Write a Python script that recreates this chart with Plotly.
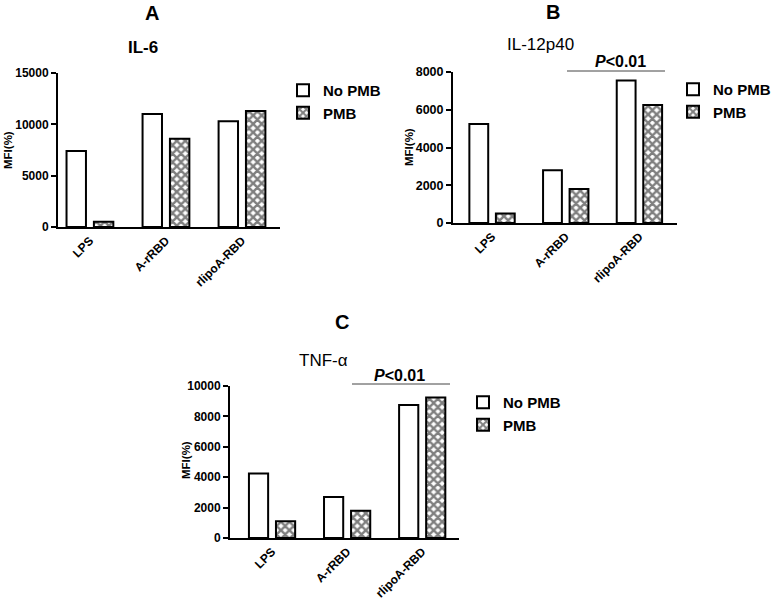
import plotly.graph_objects as go

categories = ["LPS", "A-rRBD", "rlipoA-RBD"]
series_names = ["No PMB", "PMB"]

il6_no_pmb = [7400, 11000, 10300]
il6_pmb = [500, 8600, 11300]

il12_no_pmb = [5250, 2800, 7550]
il12_pmb = [500, 1800, 6250]

tnf_no_pmb = [4250, 2700, 8750]
tnf_pmb = [1100, 1800, 9250]

panel_letters = ["A", "B", "C"]
panel_titles = ["IL-6", "IL-12p40", "TNF-α"]
y_ranges = [[0, 15000], [0, 8000], [0, 10000]]
y_ticks = [[0, 5000, 10000, 15000], [0, 2000, 4000, 6000, 8000], [0, 2000, 4000, 6000, 8000, 10000]]
y_label = "MFI(%)"
p_text = "<i>P</i>&lt;0.01"

W, H = 778, 604
FONT = "Liberation Sans, Arial, sans-serif"


def px(x):
    return x / W


def py(y):
    return 1 - y / H


fig = go.Figure()

data = [(il6_no_pmb, il6_pmb), (il12_no_pmb, il12_pmb), (tnf_no_pmb, tnf_pmb)]
legends = ["legend", "legend2", "legend3"]
for i, (nopmb, pmb) in enumerate(data):
    sfx = "" if i == 0 else str(i + 1)
    fig.add_trace(go.Bar(
        x=categories, y=nopmb, name=series_names[0],
        xaxis="x" + sfx, yaxis="y" + sfx, legend=legends[i],
        marker=dict(color="white", line=dict(color="black", width=2)),
        offsetgroup="a",
    ))
    fig.add_trace(go.Bar(
        x=categories, y=pmb, name=series_names[1],
        xaxis="x" + sfx, yaxis="y" + sfx, legend=legends[i],
        marker=dict(color="white", line=dict(color="black", width=2),
                    pattern=dict(shape="x", fgcolor="black", bgcolor="white",
                                 size=6, solidity=0.65)),
        offsetgroup="b",
    ))

# panel geometry (pixels): x0, x1, ytop, ybottom, category range
geo = [
    (58, 280, 73, 227, [-0.42, 2.5]),
    (453, 677, 72, 223, [-0.53, 2.51]),
    (230, 459, 386, 538, [-0.56, 2.49]),
]
tick_sizes = [12, 12.5, 12]

layout = dict(
    width=W, height=H, autosize=False,
    margin=dict(l=0, r=0, t=0, b=0, pad=0, autoexpand=False),
    paper_bgcolor="white", plot_bgcolor="white",
    barmode="group", bargap=0.28, bargroupgap=0.29,
    font=dict(family=FONT, color="black"),
)
for i, (x0, x1, yt, yb, xr) in enumerate(geo):
    sfx = "" if i == 0 else str(i + 1)
    layout["xaxis" + sfx] = dict(
        domain=[px(x0), px(x1)], anchor="y" + sfx, range=xr,
        showline=True, linewidth=2, linecolor="black", ticks="",
        tickangle=-45, showgrid=False, zeroline=False, automargin=False,
        tickfont=dict(family=FONT, size=12, weight="bold", color="black"),
    )
    layout["yaxis" + sfx] = dict(
        domain=[py(yb), py(yt)], anchor="x" + sfx, range=y_ranges[i],
        tickvals=y_ticks[i], tickformat="d", showline=True, linewidth=2, linecolor="black",
        ticks="outside", ticklen=5, tickwidth=2, tickcolor="black",
        showgrid=False, zeroline=False, automargin=False,
        tickfont=dict(family=FONT, size=tick_sizes[i], weight="bold", color="black"),
    )

leg_pos = [(283, 74), (673, 73), (463, 386)]
for i, (lx, ly) in enumerate(leg_pos):
    layout[legends[i]] = dict(
        x=px(lx), y=py(ly), xanchor="left", yanchor="top",
        bgcolor="rgba(0,0,0,0)", borderwidth=0, tracegroupgap=0,
        font=dict(family=FONT, size=15, weight="bold", color="black"),
    )

fig.update_layout(**layout)


def ann(text, x, y, size, weight="bold", angle=0):
    return dict(text=text, x=px(x), y=py(y), xref="paper", yref="paper",
                xanchor="center", yanchor="middle", showarrow=False, textangle=angle,
                font=dict(family=FONT, size=size, weight=weight, color="black"))


annotations = []
letter_pos = [(152, 13), (553, 12), (342, 322)]
title_pos = [(143, 47), (540, 45), (323, 360)]
title_bold = ["bold", "normal", "normal"]
ylab_pos = [(8, 150), (409, 147), (186, 460)]
for i in range(3):
    annotations.append(ann(panel_letters[i], *letter_pos[i], 20))
    annotations.append(ann(panel_titles[i], *title_pos[i], 17, title_bold[i]))
    annotations.append(ann(y_label, *ylab_pos[i], 11.5, "bold", -90))

# significance bars for B and C
sig = [((567, 665, 71), (620, 62)), ((352, 450, 384), (399, 375))]
shapes = []
for (x0, x1, yl), (tx, ty) in sig:
    shapes.append(dict(type="line", xref="paper", yref="paper",
                       x0=px(x0), x1=px(x1), y0=py(yl), y1=py(yl),
                       line=dict(color="#444", width=1)))
    annotations.append(ann(p_text, tx, ty, 16))

fig.update_layout(annotations=annotations, shapes=shapes)

fig.write_html("out.html", config={"displayModeBar": False},
               post_script="document.body.style.margin='0';document.body.style.overflow='hidden';")
